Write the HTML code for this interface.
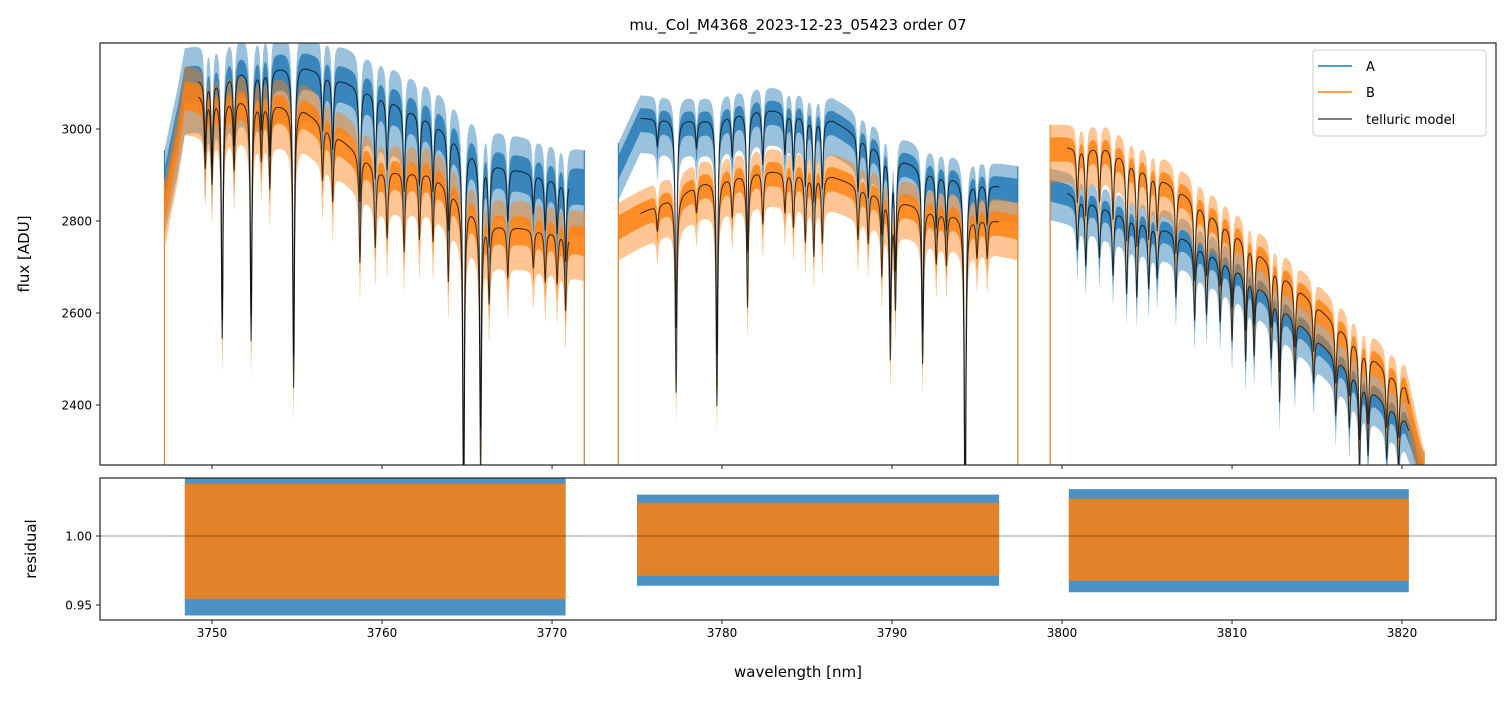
<!DOCTYPE html>
<html><head><meta charset="utf-8"><style>
body{margin:0;background:#fff;font-family:"Liberation Sans","DejaVu Sans",sans-serif}
svg text{font-family:"DejaVu Sans","Liberation Sans",sans-serif}
</style></head><body>
<svg id="chart" width="1510" height="696" xmlns="http://www.w3.org/2000/svg">
<defs>
<clipPath id="cpTop"><rect x="100" y="43" width="1396" height="422"/></clipPath>
<clipPath id="cpBot"><rect x="100" y="478" width="1396" height="142"/></clipPath>
</defs>
<text x="798" y="30" font-size="15" text-anchor="middle">mu._Col_M4368_2023-12-23_05423  order 07</text>
<g id="gtop" clip-path="url(#cpTop)"></g>
<g id="gbot" clip-path="url(#cpBot)"></g>
<rect x="100" y="43" width="1396" height="422" fill="none" stroke="#222" stroke-width="1.2"/>
<rect x="100" y="478" width="1396" height="142" fill="none" stroke="#222" stroke-width="1.2"/>
<g id="axes"></g>
<text transform="translate(29,254) rotate(-90)" font-size="15" text-anchor="middle">flux [ADU]</text>
<text transform="translate(36,549) rotate(-90)" font-size="15" text-anchor="middle">residual</text>
<text x="798" y="677" font-size="15" text-anchor="middle">wavelength [nm]</text>
<g>
<rect x="1313" y="50" width="173" height="86" rx="3" fill="#fff" fill-opacity="0.85" stroke="#ccc"/>
<line x1="1318" y1="66" x2="1352" y2="66" stroke="#1f77b4" stroke-width="1.5"/>
<text x="1366" y="71" font-size="13">A</text>
<line x1="1318" y1="92" x2="1352" y2="92" stroke="#ff7f0e" stroke-width="1.5"/>
<text x="1366" y="97" font-size="13">B</text>
<line x1="1318" y1="119" x2="1352" y2="119" stroke="#555" stroke-width="1.5"/>
<text x="1366" y="124" font-size="13">telluric model</text>
</g>
</svg>
<script>
// ---- data ----
const xTicks = [3750,3760,3770,3780,3790,3800,3810,3820];
const yTicksTop = [2400,2600,2800,3000];
const yTicksBot = [0.95,1.00];
const yTickBotLabels = ["0.95","1.00"];
const dataRanges = [[3747.2,3771.9],[3773.9,3797.4],[3799.3,3821.3]];
const modelRanges = [[3749.2,3771.0],[3775.2,3796.3],[3800.3,3820.4]];
const contAw = [[3747.2,3748.0,3748.4,3751.6,3755.3,3759.9,3762.9,3766.4,3770.5,3771.9],[3773.9,3775.2,3778.8,3782.4,3786.5,3789.4,3792.4,3796.0,3797.4],[3799.3,3800.4,3802.6,3806.7,3810.8,3813.8,3816.7,3820.2,3821.3]];
const contAf = [[2880,3020,3102,3128,3139,3074,3020,2926,2889,2880],[2920,3024,3020,3046,3020,2954,2906,2878,2870],[2870,2861,2830,2774,2687,2585,2483,2367,2250]];
const contBf = [[2830,2980,3078,3067,3046,2911,2906,2793,2776,2760],[2790,2817,2883,2911,2898,2857,2824,2802,2790],[2960,2961,2961,2874,2759,2657,2557,2439,2250]];
const noiseA = [75,50,45];
const noiseB = [60,50,50];
const lineW = [3749.6,3750.0,3750.6,3751.3,3752.3,3752.9,3753.4,3754.8,3756.5,3757.1,3758.7,3759.6,3760.3,3761.3,3762.2,3763.0,3763.9,3764.8,3765.8,3766.3,3767.4,3768.9,3769.6,3770.3,3770.8,
 3776.2,3777.3,3778.5,3779.7,3780.6,3781.5,3782.4,3783.7,3784.2,3784.9,3785.4,3785.9,3788.0,3788.6,3789.4,3789.9,3790.2,3791.8,3792.6,3793.2,3794.3,3795.0,3795.6,
 3800.9,3801.4,3802.2,3803.0,3803.8,3804.4,3805.1,3805.6,3806.7,3807.8,3808.5,3809.3,3810.0,3810.8,3811.3,3812.3,3812.8,3813.7,3814.8,3816.1,3816.9,3817.5,3818.0,3819.1,3819.8];
const lineD = [0.05,0.06,0.17,0.05,0.17,0.04,0.06,0.2,0.04,0.05,0.08,0.06,0.05,0.06,0.05,0.05,0.07,0.25,0.2,0.06,0.04,0.03,0.04,0.04,0.06,
 0.02,0.15,0.02,0.17,0.03,0.1,0.04,0.03,0.04,0.05,0.06,0.05,0.04,0.04,0.06,0.12,0.08,0.12,0.04,0.04,0.25,0.03,0.03,
 0.04,0.05,0.04,0.05,0.06,0.06,0.05,0.04,0.05,0.06,0.05,0.05,0.06,0.07,0.06,0.05,0.08,0.05,0.04,0.05,0.05,0.08,0.06,0.05,0.05];
const residRanges = [[3748.4,3770.8],[3775.0,3796.3],[3800.4,3820.4]];
const residAmpA = [0.048,0.03,0.034];
const residAmpB = [0.038,0.024,0.027];

// ---- axes ----
const X = w => 100 + (w - 3743.41) * 17;
const YT = f => 129 + (3000 - f) * 0.46;
const YB = r => 536 + (1 - r) * 1380;
const NS = "http://www.w3.org/2000/svg";
function mk(tag, attrs, parent){const e=document.createElementNS(NS,tag);for(const k in attrs)e.setAttribute(k,attrs[k]);parent.appendChild(e);return e;}
function interp(ws, fs, w){if(w<=ws[0])return fs[0];for(let i=1;i<ws.length;i++){if(w<=ws[i]){const t=(w-ws[i-1])/(ws[i]-ws[i-1]);return fs[i-1]+t*(fs[i]-fs[i-1]);}}return fs[fs.length-1];}
function trans(w){let a=0;for(let i=0;i<lineW.length;i++){const u=(w-lineW[i])/0.06;a+=lineD[i]/(1+u*u);}return Math.max(0.3,1-a);}

const gTop=document.getElementById('gtop'), gBot=document.getElementById('gbot'), gAxes=document.getElementById('axes');

function band(g, ws, lo, hi, color, op, name){
  let d='M'+X(ws[0]).toFixed(1)+','+hi[0].toFixed(1);
  for(let i=1;i<ws.length;i++) d+='L'+X(ws[i]).toFixed(1)+','+hi[i].toFixed(1);
  for(let i=ws.length-1;i>=0;i--) d+='L'+X(ws[i]).toFixed(1)+','+lo[i].toFixed(1);
  const p=mk('path',{d:d+'Z',fill:color,'fill-opacity':op,stroke:'none'},g);
  
  
}
function drawFlux(contF, noise, color, name){
  for(let s=0;s<3;s++){
    const ws=[],lo=[],hi=[],lo2=[],hi2=[];
    for(let w=dataRanges[s][0];w<=dataRanges[s][1];w+=0.03){
      const m=interp(contAw[s],contF[s],w)*trans(w);
      ws.push(w);
      hi.push(YT(m+noise[s]));lo.push(YT(m-noise[s]*1.5));
      hi2.push(YT(m+noise[s]*0.45));lo2.push(YT(m-noise[s]*0.6));
    }
    band(gTop,ws,lo,hi,color,0.45,name+'-segment-'+(s+1)+'-outer');
    band(gTop,ws,lo2,hi2,color,0.8,name+'-segment-'+(s+1));
    const e1=mk('line',{x1:X(dataRanges[s][0]),x2:X(dataRanges[s][0]),y1:465,y2:hi[0],stroke:color,'stroke-width':1},gTop);
    
    
    const e2=mk('line',{x1:X(dataRanges[s][1]),x2:X(dataRanges[s][1]),y1:465,y2:hi[hi.length-1],stroke:color,'stroke-width':1},gTop);
    
    
  }
}
function drawModel(contF, name){
  for(let s=0;s<3;s++){
    let d='';
    for(let w=modelRanges[s][0];w<=modelRanges[s][1];w+=0.02){
      const m=interp(contAw[s],contF[s],w)*trans(w);
      d+=(d?'L':'M')+X(w).toFixed(1)+','+YT(m).toFixed(1);
    }
    const p=mk('path',{d:d,fill:'none',stroke:'#000','stroke-opacity':0.7,'stroke-width':1.1},gTop);
    
    
  }
}
drawFlux(contAf,noiseA,'#1f77b4','flux-a');
drawFlux(contBf,noiseB,'#ff7f0e','flux-b');
drawModel(contAf,'telluric-model-a');
drawModel(contBf,'telluric-model-b');

function drawResid(amp,color,op,name){
  for(let s=0;s<3;s++){
    const ws=[residRanges[s][0],residRanges[s][1]];
    band(gBot,ws,[YB(1-amp[s]*1.2),YB(1-amp[s]*1.2)],[YB(1+amp[s]),YB(1+amp[s])],color,op,name+'-segment-'+(s+1));
  }
}
drawResid(residAmpA,'#1f77b4',0.8,'residual-a');
drawResid(residAmpB,'#ff7f0e',0.85,'residual-b');
const zl=mk('line',{x1:100,x2:1496,y1:YB(1),y2:YB(1),stroke:'#000','stroke-width':0.6,'stroke-opacity':0.8},gBot);



xTicks.forEach(t=>{
  const x=X(t);
  const a=mk('line',{x1:x,x2:x,y1:465,y2:469,stroke:'#222'},gAxes);
  
  
  const b=mk('line',{x1:x,x2:x,y1:620,y2:624,stroke:'#222'},gAxes);
  
  
  const tx=mk('text',{x:x,y:637,'font-size':12,'text-anchor':'middle'},gAxes);tx.textContent=t;
  
  
});
yTicksTop.forEach(t=>{
  const y=YT(t);
  const a=mk('line',{x1:96,x2:100,y1:y,y2:y,stroke:'#222'},gAxes);
  
  
  const tx=mk('text',{x:92,y:y+4.5,'font-size':12,'text-anchor':'end'},gAxes);tx.textContent=t;
  
  
});
yTicksBot.forEach((t,i)=>{
  const y=YB(t);
  const a=mk('line',{x1:96,x2:100,y1:y,y2:y,stroke:'#222'},gAxes);
  
  
  const tx=mk('text',{x:92,y:y+4.5,'font-size':12,'text-anchor':'end'},gAxes);tx.textContent=yTickBotLabels[i];
  
  
});
</script>
</body></html>
